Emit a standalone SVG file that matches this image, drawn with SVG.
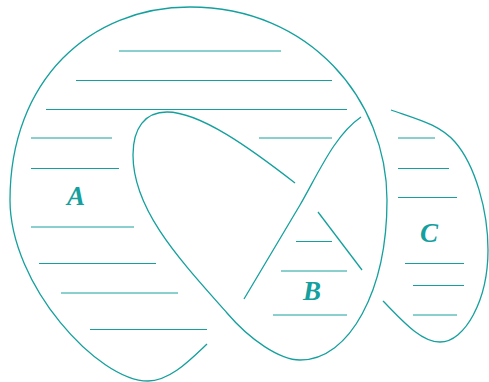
<svg xmlns="http://www.w3.org/2000/svg" width="489" height="382" viewBox="0 0 489 382">
<style>
.s{fill:none;stroke:#14a09e;stroke-width:1.3}
.h{fill:none;stroke:#14a09e;stroke-width:1}
.lb{font-family:"Liberation Serif",serif;font-weight:bold;font-style:italic;font-size:27px;fill:#14a09e;text-anchor:middle}
</style>
<g id="connectors">
<path class="s" d="M207,344 C190,360 170,381 148,381 C98,381 10,285 10,200 C10,80 90,7 190,7 C310,7 387,100 387,200 C387,290 350,360 300,360 C280,360 250,340 227,313 C180,260 133,210 133,155 C133,128 145,112 167,112 C200,112 250,148 295,183"/>
<path class="s" d="M244,299 L300,205 C320,170 335,135 361,117"/>
<path class="s" d="M318,212 L362,270"/>
<path class="s" d="M391,110 C420,120 440,125 455,142 C475,165 488,210 488,250 C488,300 465,342 440,342 C420,342 400,318 383,301"/>
</g>
<g id="A">
<path class="h" d="M119,51H281 M76,80.5H332 M46,109.5H347 M31,138H112 M259,138H332 M31,168.5H119 M31,227H134 M39,263.5H156 M61,293H178 M90,329.5H207"/>
<text class="lb" x="76" y="205">A</text>
</g>
<g id="B">
<path class="h" d="M296,241.5H332 M281,271H347 M273,315H347"/>
<text class="lb" x="312" y="300">B</text>
</g>
<g id="C">
<path class="h" d="M398,138H435 M398,168.5H449 M398,197.5H457 M405,263.5H464 M413,285.5H464 M413,315H457"/>
<text class="lb" x="429" y="242">C</text>
</g>
</svg>
